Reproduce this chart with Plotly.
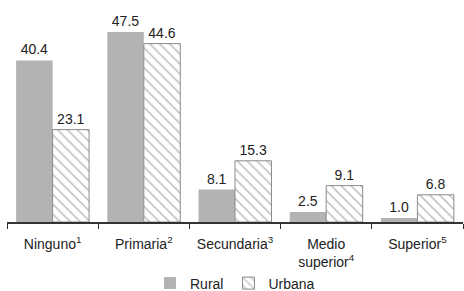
import plotly.graph_objects as go

categories = ["Ninguno<sup>1</sup>", "Primaria<sup>2</sup>", "Secundaria<sup>3</sup>",
              "Medio<br>superior<sup>4</sup>", "Superior<sup>5</sup>"]
rural = [40.4, 47.5, 8.1, 2.5, 1.0]
urbana = [23.1, 44.6, 15.3, 9.1, 6.8]

font = "Liberation Sans, Arial, sans-serif"

fig = go.Figure()
fig.add_bar(name="Rural", x=categories, y=rural,
            marker=dict(color="#b3b3b3", line=dict(width=0)),
            text=[f"{v:.1f}" for v in rural], textposition="outside",
            textfont=dict(size=14, color="#222"), cliponaxis=False)
fig.add_bar(name="Urbana", x=categories, y=urbana,
            marker=dict(color="white", line=dict(color="#8a8a8a", width=1),
                        pattern=dict(shape="\\", fgcolor="#707070", bgcolor="white",
                                     size=7, solidity=0.2)),
            text=[f"{v:.1f}" for v in urbana], textposition="outside",
            textfont=dict(size=14, color="#222"), cliponaxis=False)

fig.update_layout(
    width=464, height=291,
    margin=dict(l=7, r=1, t=0, b=69, autoexpand=False),
    paper_bgcolor="white", plot_bgcolor="white",
    barmode="group", bargap=0.2, bargroupgap=0,
    font=dict(family=font, size=13, color="#222"),
    showlegend=True,
    legend=dict(orientation="h", x=0.5, xanchor="center", y=-0.205, yanchor="top",
                bgcolor="rgba(0,0,0,0)",
                font=dict(size=14), itemwidth=30, tracegroupgap=0),
    xaxis=dict(showline=True, linecolor="#333", linewidth=1.5, ticks="outside",
               tickson="boundaries", ticklen=5, tickcolor="#333",
               ticklabelstandoff=8, automargin=False,
               tickfont=dict(size=14), showgrid=False),
    yaxis=dict(visible=False, range=[0, 55.5], showgrid=False, zeroline=False,
               automargin=False),
)

fig.write_html("out.html", post_script="document.body.style.margin='0';",
               config={"displayModeBar": False})
